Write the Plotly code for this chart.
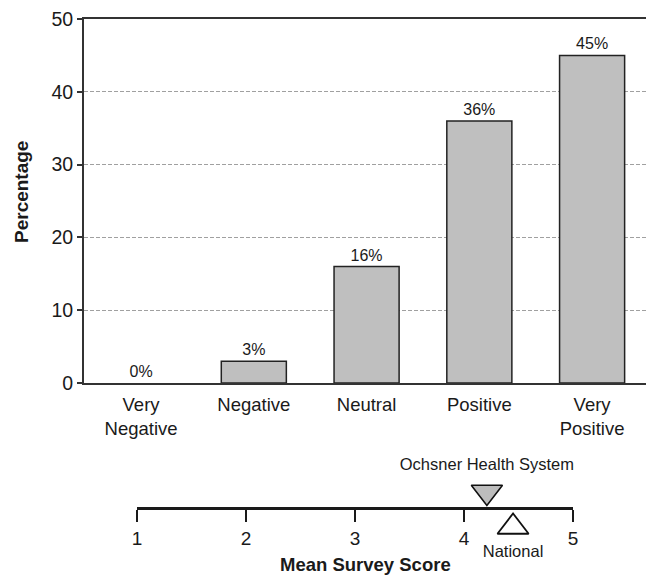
import plotly.graph_objects as go

# ---- data ----
categories = ["Very<br>Negative", "Negative", "Neutral", "Positive", "Very<br>Positive"]
percentages = [0, 3, 16, 36, 45]
score_ticks = [1, 2, 3, 4, 5]
ochsner_score = [4.21]
national_score = [4.45]
ochsner_label = ["Ochsner Health System"]
national_label = ["National"]

FONT = "Liberation Sans, Arial, Helvetica, sans-serif"
INK = "#1a1a1a"

W, H = 646, 575
ML, MR, MT, MB = 84, 0, 19, 0
PW, PH = W - ML - MR, H - MT - MB


def px_y(p):  # pixel row -> paper y
    return (H - MB - p) / PH


def px_x(p):  # pixel column -> paper x
    return (p - ML) / PW


fig = go.Figure()

fig.add_trace(go.Bar(
    x=categories, y=percentages,
    width=0.577,
    marker=dict(color="#bfbfbf",
                line=dict(color="#222222",
                          width=[1.5 if v > 0 else 0 for v in percentages])),
    texttemplate="%{y}%", textposition="outside",
    textfont=dict(size=16, color=INK, family=FONT),
    cliponaxis=False, showlegend=False,
    xaxis="x", yaxis="y",
))

# scale markers (y offsets in pixel units of the strip axis)
fig.add_trace(go.Scatter(
    x=ochsner_score, y=[83] * len(ochsner_score),
    mode="markers+text", text=ochsner_label, textposition="top center",
    textfont=dict(size=16.5, color=INK, family=FONT),
    marker=dict(symbol="triangle-down", size=27, color="#bdbdbd",
                line=dict(color="#111111", width=1.6)),
    cliponaxis=False, showlegend=False, xaxis="x2", yaxis="y2",
))
fig.add_trace(go.Scatter(
    x=national_score, y=[48] * len(national_score),
    mode="markers+text", text=national_label, textposition="bottom center",
    textfont=dict(size=16.5, color=INK, family=FONT),
    marker=dict(symbol="triangle-up", size=27, color="white",
                line=dict(color="#111111", width=1.8)),
    cliponaxis=False, showlegend=False, xaxis="x2", yaxis="y2",
))

fig.update_layout(
    width=W, height=H,
    margin=dict(l=ML, r=MR, t=MT, b=MB, autoexpand=False),
    paper_bgcolor="white", plot_bgcolor="white",
    font=dict(family=FONT, color=INK),
    xaxis=dict(
        domain=[0, 1], range=[-0.506, 4.478], type="category",
        showline=True, linecolor="#333333", linewidth=2, mirror=True,
        ticks="", showgrid=False, zeroline=False,
        tickfont=dict(size=18.5, color=INK, family=FONT),
        ticklabelstandoff=4,
        anchor="y", automargin=False,
    ),
    yaxis=dict(
        domain=[px_y(383), 1], range=[0, 50], dtick=10,
        showline=True, linecolor="#333333", linewidth=2,
        ticks="outside", ticklen=5, tickwidth=1.5, tickcolor="#333333",
        showgrid=True, gridcolor="#a0a0a0", griddash="4px,2px", gridwidth=1,
        zeroline=False,
        tickfont=dict(size=19.5, color=INK, family=FONT),
        anchor="x", automargin=False,
    ),
    xaxis2=dict(
        domain=[px_x(137), px_x(573)], range=[1, 5],
        tickvals=score_ticks,
        anchor="free", position=px_y(508),
        showline=True, linecolor="#1a1a1a", linewidth=2.5,
        ticks="outside", ticklen=12, tickwidth=2, tickcolor="#1a1a1a",
        showgrid=False, zeroline=False,
        tickfont=dict(size=19, color=INK, family=FONT),
        automargin=False,
    ),
    yaxis2=dict(
        domain=[0, px_y(H - 135)], range=[0, 135], visible=False,
        anchor="x2",
    ),
    annotations=[
        dict(text="<b>Percentage</b>", xref="paper", yref="paper",
             x=px_x(22), y=px_y(192), textangle=-90, showarrow=False,
             xanchor="center", yanchor="middle",
             font=dict(size=19, color=INK, family=FONT)),
        dict(text="<b>Mean Survey Score</b>", xref="paper", yref="paper",
             x=px_x(365), y=px_y(564), showarrow=False,
             xanchor="center", yanchor="middle",
             font=dict(size=18.5, color=INK, family=FONT)),
    ],
)

fig.write_html(
    "out.html",
    config={"displayModeBar": False},
    post_script="document.body.style.margin='0';document.body.style.overflow='hidden';",
)
